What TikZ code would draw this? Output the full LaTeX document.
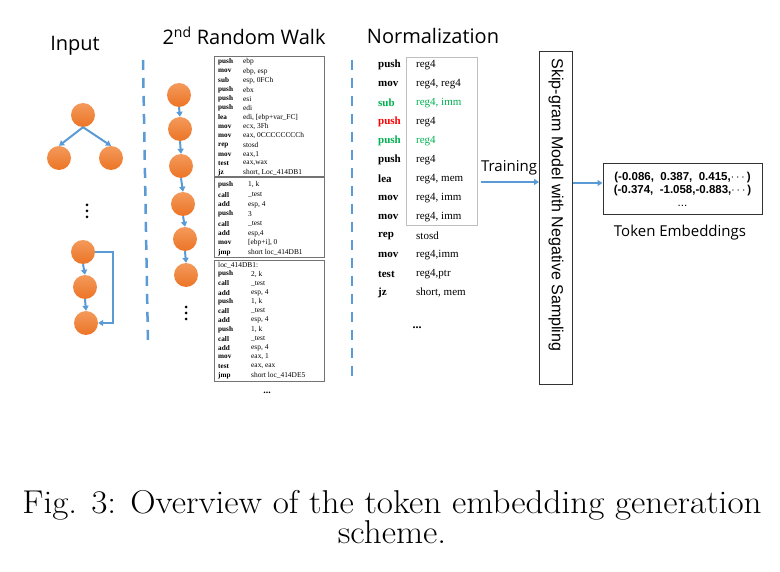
\documentclass[tikz,border=0pt]{standalone}
\usepackage{fontspec}
\usepackage{amsmath}
\usetikzlibrary{arrows.meta,positioning}
\newfontfamily\titlefont{Open Sans}
\newfontfamily\codefont{Liberation Serif}
\newfontfamily\numfont{Liberation Sans}

\definecolor{walkblue}{HTML}{5B9BD5}
\definecolor{nodetop}{HTML}{F49A5C}
\definecolor{nodebot}{HTML}{EC7425}
\definecolor{opgreen}{HTML}{00B050}
\definecolor{opred}{HTML}{FF0000}

\tikzset{
  vtx/.style={circle, minimum size=24pt, inner sep=0pt, top color=nodetop, bottom color=nodebot},
  flow/.style={draw=walkblue, line width=2pt, -{Triangle[length=5pt,width=6pt]}},
  sepline/.style={draw=walkblue, line width=2.5pt, dash pattern=on 10pt off 8pt},
  title/.style={font=\titlefont\fontsize{20}{24}\selectfont, inner sep=0pt},
  codebox/.style={draw=black!55, line width=1pt},
  asm/.style={font=\codefont\fontsize{7.4}{8}\selectfont, anchor=west, inner sep=0pt},
  asmop/.style={asm, font=\codefont\bfseries\fontsize{7.2}{8}\selectfont},
  norm/.style={font=\codefont\fontsize{11}{12}\selectfont, anchor=west, inner sep=0pt},
  normop/.style={norm, font=\codefont\bfseries\fontsize{11}{12}\selectfont}
}

\begin{document}
\begin{tikzpicture}[x=1pt,y=-1pt]
\useasboundingbox (0,0) rectangle (780,572);

% titles
\node[title] (tin) at (75,46) {Input};
\node[title] (twalk) at (244,36) {2\textsuperscript{nd} Random Walk};
\node[title] (tnorm) at (433,36) {Normalization};

% separators
\coordinate (s1a) at (143,60);
\coordinate (s1b) at (148,345);
\coordinate (s2a) at (352,60);
\coordinate (s2b) at (352,380);
\draw[sepline] (s1a) -- (s1b);
\draw[sepline] (s2a) -- (s2b);

% input graphs
\node[vtx] (t0) at (83,115) {};
\node[vtx] (t1) at (59,158) {};
\node[vtx] (t2) at (111,158) {};
\draw[flow] (t0.south) -- (t1.north);
\draw[flow] (t0.south) -- (t2.north);
\foreach \d in {0,1,2}
  \fill (87,{205+6*\d}) circle (1.5pt);

\node[vtx] (l0) at (83,252) {};
\node[vtx] (l1) at (85,287) {};
\node[vtx] (l2) at (86,323) {};
\draw[flow] (l0.south) -- (l1.north);
\draw[flow] (l1.south) -- (l2.north);
\coordinate (lp) at (113,252);
\draw[flow] (l0.east) -- (lp) |- (l2.east);

% random walk
\foreach \x/\y [count=\i] in {179/95, 180/129, 181/166, 183/204, 185/239, 186/275}
  \node[vtx] (w\i) at (\x,\y) {};
\foreach \i [evaluate=\i as \j using int(\i+1)] in {1,...,5}
  \draw[flow] (w\i.south) -- (w\j.north);
\foreach \d in {0,1,2}
  \fill (186,{307+6*\d}) circle (1.5pt);

% assembly blocks
\draw[codebox] (214,57) rectangle (324,177);
\draw[codebox] (214,178) rectangle (324,258);
\draw[codebox] (214,261) rectangle (324,382);

\foreach \op/\arg [count=\i] in {push/ebp, mov/{ebp, esp}, sub/{esp, 0FCh}, push/ebx, push/esi, push/edi,
    lea/{edi, [ebp+var\_FC]}, mov/{ecx, 3Fh}, mov/{eax, 0CCCCCCCCh}, rep/stosd, mov/{eax,1}, test/{eax,wax},
    jz/{short, Loc\_414DB1}} {
  \node[asmop] (ao\i) at (218,{62+9.25*(\i-1)}) {\op};
  \node[asm] (aa\i) at (243,{62+9.25*(\i-1)}) {\arg};
}
\foreach \op/\arg [count=\i] in {push/{1, k}, call/\_test, add/{esp, 4}, push/3, call/\_test, add/{esp,4},
    mov/{[ebp+i], 0}, jmp/{short loc\_414DB1}} {
  \node[asmop] (bo\i) at (218,{185+9.7*(\i-1)}) {\op};
  \node[asm] (ba\i) at (248,{185+9.7*(\i-1)}) {\arg};
}
\node[asm] (clabel) at (218,265) {loc\_414DB1:};
\foreach \op/\arg [count=\i] in {push/{2, k}, call/\_test, add/{esp, 4}, push/{1, k}, call/\_test, add/{esp, 4},
    push/{1, k}, call/\_test, add/{esp, 4}, mov/{eax, 1}, test/{eax, eax}, jmp/{short loc\_414DE5}} {
  \node[asmop] (co\i) at (218,{274.2+9.2*(\i-1)}) {\op};
  \node[asm] (ca\i) at (251,{274.2+9.2*(\i-1)}) {\arg};
}
\node[inner sep=0pt] (cdots) at (267,393) {\codefont\bfseries\fontsize{10}{10}\selectfont...};

% normalized tokens
\draw[draw=black!25, line width=1pt] (406,58) rectangle (477,226);
\foreach \op/\arg/\oc/\ac [count=\i] in {push/reg4/black/black, mov/{reg4, reg4}/black/black,
    sub/{reg4, imm}/opgreen/opgreen, push/reg4/opred/black, push/reg4/opgreen/opgreen,
    push/reg4/black/black, lea/{reg4, mem}/black/black, mov/{reg4, imm}/black/black,
    mov/{reg4, imm}/black/black, rep/stosd/black/black, mov/{reg4,imm}/black/black,
    test/{reg4,ptr}/black/black, jz/{short, mem}/black/black} {
  \node[normop, text=\oc] (no\i) at (378,{65+19*(\i-1)}) {\op};
  \node[norm, text=\ac] (na\i) at (416,{65+19*(\i-1)}) {\arg};
}
\node[inner sep=0pt] (ndots) at (417,328) {\codefont\bfseries\fontsize{12}{12}\selectfont...};

% training
\node[font=\titlefont\fontsize{15}{18}\selectfont, inner sep=0pt] (train) at (509,168) {Training};
\node[draw=black!80, line width=1pt, minimum width=33pt, minimum height=333pt, inner sep=0pt] (sg) at (556,218.5) {};
\node[rotate=-90, font=\numfont\fontsize{16}{20}\selectfont, inner sep=0pt] (sgtext) at (556,205) {Skip-gram Model with Negative Sampling};
\coordinate (tr) at (481,182);
\draw[flow] (tr) -- (tr -| sg.west);

% embeddings
\node[draw=black!80, line width=1pt, minimum width=159pt, minimum height=51pt, inner sep=0pt, align=center,
  font=\numfont\bfseries\fontsize{11.5}{13}\selectfont] (emb) at (682.5,189.5)
  {(-0.086,\ \ 0.387,\ \ 0.415,$\cdots$)\\(-0.374,\ \ -1.058,-0.883,$\cdots$)\\\mdseries...};
\coordinate (eo) at (573,183);
\draw[flow] (eo) -- (eo -| emb.west);
\node[font=\titlefont\fontsize{15}{18}\selectfont, inner sep=0pt] (tok) at (680,233) {Token Embeddings};

% caption
\node[anchor=base, font=\fontsize{33}{36}\selectfont, inner sep=0pt] (cap1) at (392,513) {\scalebox{1.065}[1]{Fig. 3: Overview of the token embedding generation}};
\node[anchor=base, font=\fontsize{33}{36}\selectfont, inner sep=0pt] (cap2) at (392,543) {\scalebox{1.065}[1]{scheme.}};
\end{tikzpicture}
\end{document}
